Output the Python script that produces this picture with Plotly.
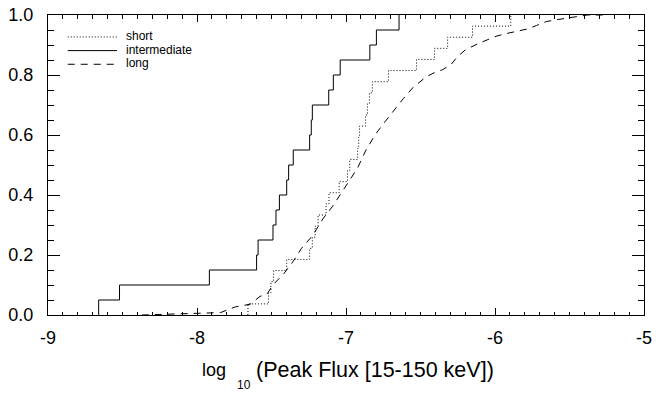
import plotly.graph_objects as go

# ---------------- data ----------------
# sorted log10 peak-flux values of each class (read from the empirical CDFs)
short_vals = [-7.658, -7.520, -7.504, -7.486, -7.398, -7.244, -7.226, -7.207,
              -7.187, -7.134, -7.114, -7.046, -6.990, -6.975, -6.922, -6.915,
              -6.909, -6.869, -6.856, -6.843, -6.823, -6.715, -6.527, -6.406,
              -6.318, -6.151, -5.894]
inter_vals = [-8.66, -8.52, -7.917, -7.60, -7.59, -7.49, -7.47, -7.447, -7.398,
              -7.385, -7.354, -7.244, -7.233, -7.226, -7.116, -7.085, -7.039,
              -6.84, -6.796, -6.644]
# long class: CDF sampled along the (very finely stepped) curve
long_x = [-8.371, -7.950, -7.842, -7.743, -7.643, -7.577, -7.530, -7.486, -7.420,
          -7.354, -7.299, -7.222, -7.156, -7.089, -7.023, -6.957, -6.922, -6.869,
          -6.803, -6.737, -6.670, -6.616, -6.549, -6.505, -6.459, -6.406, -6.351,
          -6.295, -6.252, -6.196, -6.148, -6.101, -6.048, -5.987, -5.925, -5.854,
          -5.777, -5.722, -5.656, -5.590, -5.512, -5.457, -5.380, -5.267]
long_y = [0.0, 0.005, 0.008, 0.027, 0.036, 0.062, 0.070, 0.103, 0.136,
          0.179, 0.222, 0.266, 0.320, 0.363, 0.412, 0.462, 0.490, 0.547,
          0.602, 0.645, 0.688, 0.721, 0.759, 0.778, 0.795, 0.808, 0.818,
          0.835, 0.861, 0.885, 0.897, 0.907, 0.918, 0.930, 0.938, 0.945,
          0.954, 0.965, 0.978, 0.984, 0.990, 0.995, 1.0, 1.0]

legend_labels = ["short", "intermediate", "long"]
x_tickvals = [-9, -8, -7, -6, -5]
x_ticktext = ["-9", "-8", "-7", "-6", "-5"]
y_tickvals = [0.0, 0.2, 0.4, 0.6, 0.8, 1.0]
y_ticktext = ["0.0", "0.2", "0.4", "0.6", "0.8", "1.0"]


def ecdf(vals):
    n = len(vals)
    xs = [vals[0]] + list(vals)
    ys = [0.0] + [(i + 1) / n for i in range(n)]
    return xs, ys


FONT = "Liberation Sans, Arial, Helvetica, sans-serif"
fig = go.Figure()

sx, sy = ecdf(short_vals)
ix, iy = ecdf(inter_vals)
fig.add_trace(go.Scatter(x=sx, y=sy, mode="lines", line=dict(shape="hv", color="black", width=1, dash="1px,2px"),
                         name=legend_labels[0], showlegend=False))
fig.add_trace(go.Scatter(x=ix, y=iy, mode="lines", line=dict(shape="hv", color="black", width=1),
                         name=legend_labels[1], showlegend=False))
fig.add_trace(go.Scatter(x=long_x, y=long_y, mode="lines", line=dict(color="black", width=1, dash="7px,6px"),
                         name=legend_labels[2], showlegend=False))

# manual legend (top-left, inside the plot)
L, R, T, B = 48, 5.5, 7.5, 81
W, H = 658 - L - R, 396 - T - B
def px(xp):
    return (xp - L) / W
def py(yp):
    return (396 - B - yp) / H

dashes = ["1px,2px", "solid", "7px,6px"]
rows = [30, 44, 58]
for lab, d, yy in zip(legend_labels, dashes, rows):
    fig.add_shape(type="line", xref="paper", yref="paper", x0=px(68), x1=px(118), y0=py(yy), y1=py(yy),
                  line=dict(color="black", width=1, dash=d))
    fig.add_annotation(xref="paper", yref="paper", x=px(126), y=py(yy - 1), text=lab, showarrow=False,
                       xanchor="left", yanchor="middle", borderpad=0,
                       font=dict(family=FONT, size=12, color="black"))

# x-axis title with IDL-style low subscript
fig.add_annotation(xref="paper", yref="paper", x=px(231), y=py(371), text="log", showarrow=False,
                   xanchor="right", yanchor="middle", font=dict(family=FONT, size=18, color="black"))
fig.add_annotation(xref="paper", yref="paper", x=px(246.5), y=py(387), text="10", showarrow=False,
                   xanchor="center", yanchor="middle", font=dict(family=FONT, size=12, color="black"))
fig.add_annotation(xref="paper", yref="paper", x=px(257), y=py(371), text="(Peak Flux [15-150 keV])",
                   showarrow=False, xanchor="left", yanchor="middle", font=dict(family=FONT, size=21.5, color="black"))

axis_common = dict(showgrid=False, zeroline=False, showline=True, linecolor="black", linewidth=1,
                   mirror="allticks", ticks="inside", tickcolor="black", tickwidth=1,
                   ticklabeloverflow="allow",
                   tickfont=dict(family=FONT, size=18, color="black"))
fig.update_xaxes(range=[-9, -5], tickvals=x_tickvals, ticktext=x_ticktext, ticklen=7, ticklabelstandoff=6,
                 minor=dict(dtick=0.1, ticks="inside", ticklen=3.5, tickcolor="black", tickwidth=1),
                 **axis_common)
fig.update_yaxes(range=[0, 1.0], tickvals=y_tickvals, ticktext=y_ticktext, ticklen=12, ticklabelstandoff=10,
                 minor=dict(dtick=0.05, ticks="inside", ticklen=6, tickcolor="black", tickwidth=1),
                 **axis_common)

fig.update_layout(width=658, height=396, margin=dict(l=L, r=R, t=T, b=B),
                  plot_bgcolor="white", paper_bgcolor="white", showlegend=False,
                  font=dict(family=FONT, color="black"))
fig.write_html("out.html")
